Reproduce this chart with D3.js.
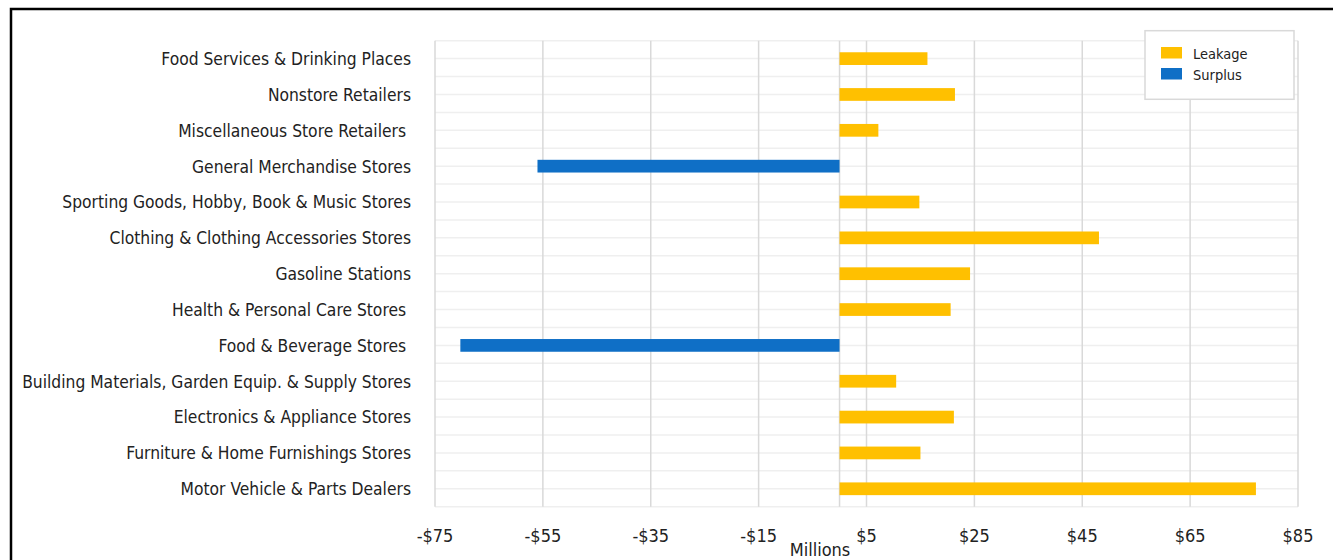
<!DOCTYPE html>
<html>
<head>
<meta charset="utf-8">
<script src="https://cdn.jsdelivr.net/npm/d3@7"></script>
<style>
    body { margin: 0; background: #fff; }
    svg text { font-family: "DejaVu Sans Condensed", "DejaVu Sans", sans-serif; font-stretch: condensed; fill: #222; }
</style>
</head>
<body>
<svg id="chart"></svg>
<script>
var categories = [
    "Food Services & Drinking Places",
    "Nonstore Retailers",
    "Miscellaneous Store Retailers ",
    "General Merchandise Stores",
    "Sporting Goods, Hobby, Book & Music Stores",
    "Clothing & Clothing Accessories Stores",
    "Gasoline Stations",
    "Health & Personal Care Stores ",
    "Food & Beverage Stores ",
    "Building Materials, Garden Equip. & Supply Stores",
    "Electronics & Appliance Stores",
    "Furniture & Home Furnishings Stores",
    "Motor Vehicle & Parts Dealers"
];

// millions of dollars, positive = leakage, negative = surplus
var gap = [16.3, 21.4, 7.2, -56.0, 14.8, 48.1, 24.2, 20.6, -70.3, 10.5, 21.2, 15.0, 77.2];

var xTicks = [-75, -55, -35, -15, 5, 25, 45, 65, 85];
var seriesNames = ["Leakage", "Surplus"];
var seriesColors = ["#ffc000", "#0f6fc6"];

var chart = (function() {

    var width = 1333,
        height = 560;
    var margin = { left: 435, right: 35, top: 40.7, bottom: 53.3 };

    var svg = d3.select("#chart")
        .attr("width", width)
        .attr("height", height);

    // outer frame (cut off on the right and bottom)
    svg.append("rect")
        .attr("x", 11).attr("y", 9)
        .attr("width", 1400).attr("height", 700)
        .attr("fill", "none")
        .attr("stroke", "#000")
        .attr("stroke-width", 2.5);

    var x = d3.scaleLinear()
        .domain([-75, 85])
        .range([margin.left, width - margin.right]);

    var y = d3.scaleBand()
        .domain(categories)
        .range([margin.top, height - margin.bottom]);

    var bw = y.bandwidth();

    // horizontal grid: band edges and band centres
    var hLines = [];
    categories.forEach(function(c) {
        hLines.push(y(c), y(c) + bw / 2);
    });
    hLines.push(height - margin.bottom);

    svg.append("g").selectAll("line")
        .data(hLines)
        .enter()
        .append("line")
        .attr("x1", margin.left).attr("x2", width - margin.right)
        .attr("y1", function(d) { return d; })
        .attr("y2", function(d) { return d; })
        .attr("stroke", "#efefef")
        .attr("stroke-width", 1.5);

    // vertical grid
    svg.append("g").selectAll("line")
        .data(xTicks.concat([0]))
        .enter()
        .append("line")
        .attr("x1", function(d) { return x(d); })
        .attr("x2", function(d) { return x(d); })
        .attr("y1", margin.top)
        .attr("y2", height - margin.bottom)
        .attr("stroke", "#d9d9d9")
        .attr("stroke-width", 1.5);

    // bars
    var barH = bw * 0.355;
    svg.append("g").selectAll("rect")
        .data(d3.zip(categories, gap))
        .enter()
        .append("rect")
        .attr("x", function(d) { return x(Math.min(0, d[1])); })
        .attr("y", function(d) { return y(d[0]) + bw / 2 - barH / 2; })
        .attr("width", function(d) { return Math.abs(x(d[1]) - x(0)); })
        .attr("height", barH)
        .attr("fill", function(d) { return d[1] >= 0 ? seriesColors[0] : seriesColors[1]; });

    // category labels
    svg.append("g").selectAll("text")
        .data(categories)
        .enter()
        .append("text")
        .attr("x", 411)
        .attr("y", function(d) { return y(d) + bw / 2 + 6.4; })
        .attr("text-anchor", "end")
        .style("white-space", "pre")
        .style("font-size", "17.3px")
        .text(function(d) { return d; });

    // x tick labels
    svg.append("g").selectAll("text")
        .data(xTicks)
        .enter()
        .append("text")
        .attr("x", function(d) { return x(d); })
        .attr("y", 542)
        .attr("text-anchor", "middle")
        .style("font-size", "18px")
        .text(function(d) { return (d < 0 ? "-$" : "$") + Math.abs(d); });

    svg.append("text")
        .attr("x", 820)
        .attr("y", 556)
        .attr("text-anchor", "middle")
        .style("font-size", "18px")
        .text("Millions");

    // legend
    var lg = svg.append("g");
    lg.append("rect")
        .attr("x", 1145).attr("y", 30.7)
        .attr("width", 149).attr("height", 68.6)
        .attr("fill", "#fff")
        .attr("stroke", "#d9d9d9")
        .attr("stroke-width", 1.5);

    var items = lg.selectAll("g.item")
        .data(d3.zip(seriesNames, seriesColors))
        .enter()
        .append("g")
        .attr("class", "item")
        .attr("transform", function(d, i) { return "translate(0," + (i * 21) + ")"; });

    items.append("rect")
        .attr("x", 1161).attr("y", 47)
        .attr("width", 21).attr("height", 11.5)
        .attr("fill", function(d) { return d[1]; });

    items.append("text")
        .attr("x", 1193).attr("y", 59)
        .style("font-size", "14.5px")
        .text(function(d) { return d[0]; });

    return svg;
})();
</script>
</body>
</html>
